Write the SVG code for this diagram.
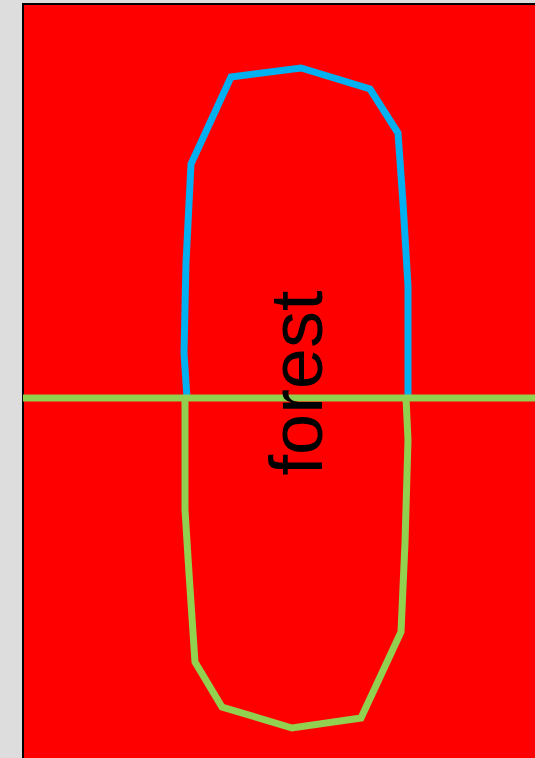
<svg xmlns="http://www.w3.org/2000/svg" width="535" height="758" viewBox="0 0 535 758">
<style>
.bound{fill:none;stroke-width:7;stroke-linejoin:miter}
.lbl{font-family:"Liberation Sans",Arial,sans-serif;font-size:74px;fill:#000}
</style>
<rect x="0" y="0" width="535" height="758" fill="#dddddd"/>
<g id="map">
<rect x="23" y="4" width="520" height="770" fill="#ff0000" stroke="#000" stroke-width="2"/>
</g>
<g id="connectors">
<polyline class="bound" stroke="#00b0f0" points="187,398 184,353 186,263 191,164 231,77 301,68 370,89 398,133 403,203 408,286 408,398"/>
<polyline class="bound" stroke="#92d050" points="185,398 185,510 189,573 195,662 222,707 292,728 361,718 401,632 405,543 408,440 406,398"/>
<line x1="23" y1="398" x2="535" y2="398" stroke="#92d050" stroke-width="7"/>
</g>
<g id="forest">
<text class="lbl" transform="translate(322,383) rotate(-90)" text-anchor="middle">forest</text>
</g>
</svg>
